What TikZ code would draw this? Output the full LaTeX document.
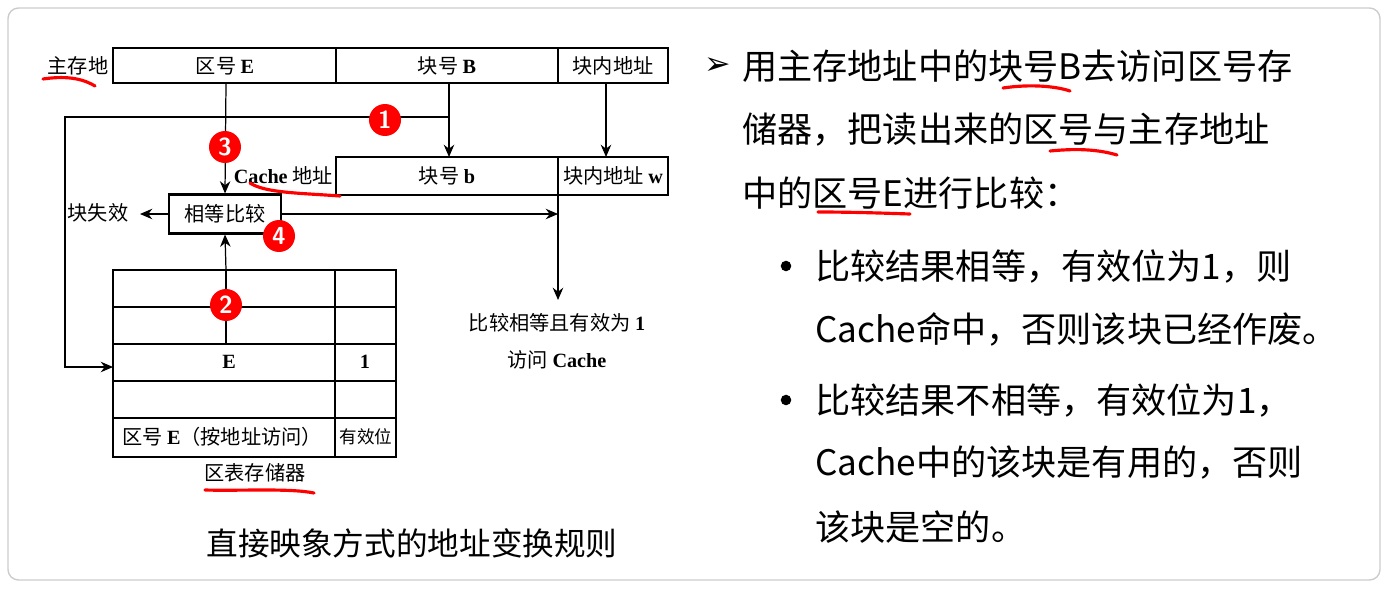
\documentclass[tikz,border=0pt]{standalone}
\usepackage{fontspec}
\usetikzlibrary{arrows.meta}
\setmainfont{Liberation Serif}
\newfontfamily\cjk{Noto Sans CJK SC}
\newfontfamily\dejavu{DejaVu Sans}
\begin{document}
\begin{tikzpicture}[x=0.02cm,y=-0.02cm,
  lbl/.style={font=\fontsize{11.5}{12}\selectfont\cjk,inner sep=0pt},
  bx/.style={draw,line width=1.2pt},
  ln/.style={line width=0.7pt},
  arr/.style={ln,-{Stealth[length=7pt,width=6pt]}},
  num/.style={circle,fill=red,text=white,minimum size=0.64cm,inner sep=0pt,font=\sffamily\bfseries\fontsize{14}{14}\selectfont},
  redu/.style={red,line width=1.8pt,line cap=round},
  rt/.style={font=\fontsize{20}{22}\selectfont\cjk,anchor=west,inner sep=0pt}]
\useasboundingbox (0,0) rectangle (1388,588);
\draw[gray!40,line width=0.8pt,rounded corners=6pt] (8,8) rectangle (1380,580);
% main address
\draw[bx] (113,48) rectangle (668,83);
\draw[ln] (336,48)--(336,83) (558,48)--(558,83);
\node[lbl] (zc) at (78,66) {主存地};
\node[lbl] (qE) at (225,66) {区号 \textbf{\rmfamily E}};
\node[lbl] (kB) at (447,66) {块号 \textbf{\rmfamily B}};
\node[lbl] (kn) at (613,66) {块内地址};
\draw[redu] (43,79) .. controls (70,75) and (85,80) .. (95,86);
% cache address
\draw[bx] (336,157) rectangle (668,195);
\draw[ln] (558,157)--(558,195);
\node[lbl,anchor=east] (ca) at (333,176) {\textbf{\rmfamily Cache} 地址};
\node[lbl] (kb) at (447,176) {块号 \textbf{\rmfamily b}};
\node[lbl] (knw) at (613,176) {块内地址 \textbf{\rmfamily w}};
\draw[redu] (250,183) .. controls (265,193) and (300,193) .. (340,196);
% compare
\node[bx,minimum width=2.24cm,minimum height=0.78cm,inner sep=0pt,font=\fontsize{11.5}{12}\selectfont\cjk] (cmp) at (225,214) {相等比较};
\node[lbl] (miss) at (98,213) {块失效};
\draw[arr] (cmp.west) -- (140,214);
\coordinate (r1) at (558,214);
\draw[arr] (cmp.east) -- (r1);
\draw[arr] (558,195) -- (558,300);
\node[lbl] (t1) at (557,323) {比较相等且有效为 \textbf{\rmfamily 1}};
\node[lbl] (t2) at (557,360) {访问 \textbf{\rmfamily Cache}};
% arrows from main address
\draw[arr] (226,83) -- (cmp.north);
\draw[arr] (449,83) -- (449,157);
\draw[arr] (606,83) -- (606,157);
\draw[arr] (449,117) -- (65,117) -- (65,367) -- (113,367);
% table
\draw[bx] (113,270) rectangle (396,457);
\draw[ln] (335,270)--(335,457);
\foreach \y in {307,344,381,418} \draw[ln] (113,\y)--(396,\y);
\draw[ln] (226,344) -- (226,270);
\draw[arr] (226,270) -- (cmp.south);
\node[lbl] (e) at (229,362) {\textbf{\rmfamily E}};
\node[lbl] (one) at (365,362) {\textbf{\rmfamily 1}};
\node[lbl] (qa) at (222,437) {区号 \textbf{\rmfamily E}（按地址访问）};
\node[lbl,font=\fontsize{10}{10}\selectfont\cjk] (yx) at (366,437) {有效位};
\node[lbl] (qb) at (255,473) {区表存储器};
\draw[redu] (205,490) .. controls (240,491) and (290,488) .. (314,493);
\node[font=\fontsize{18}{20}\selectfont\cjk,inner sep=0pt] (cap) at (412,543) {直接映象方式的地址变换规则};
% numbers
\node[num] (n1) at (385,120) {1};
\node[num] (n3) at (225,147) {3};
\node[num] (n4) at (279,236) {4};
\node[num] (n2) at (226,305) {2};
% right text
\node[font=\fontsize{18}{18}\selectfont\dejavu\bfseries,inner sep=0pt] (tri) at (718,66) {➢};
\node[rt] (l1) at (742,66) {用主存地址中的块号B去访问区号存};
\node[rt] (l2) at (742,130) {储器，把读出来的区号与主存地址};
\node[rt] (l3) at (742,193) {中的区号E进行比较：};
\draw[redu] (1003,88) .. controls (1030,84) and (1055,86) .. (1070,91);
\draw[redu] (1050,151) .. controls (1080,148) and (1100,150) .. (1117,155);
\draw[redu] (818,212) .. controls (850,212) and (880,213) .. (910,214);
\node[fill,circle,inner sep=0pt,minimum size=6pt] (b1) at (786,266) {};
\node[fill,circle,inner sep=0pt,minimum size=6pt] (b2) at (786,400) {};
\node[rt] (l4) at (815,266) {比较结果相等，有效位为1，则};
\node[rt] (l5) at (815,329) {Cache命中，否则该块已经作废。};
\node[rt] (l6) at (815,400) {比较结果不相等，有效位为1，};
\node[rt] (l7) at (815,463) {Cache中的该块是有用的，否则};
\node[rt] (l8) at (815,527) {该块是空的。};
\end{tikzpicture}
\end{document}
